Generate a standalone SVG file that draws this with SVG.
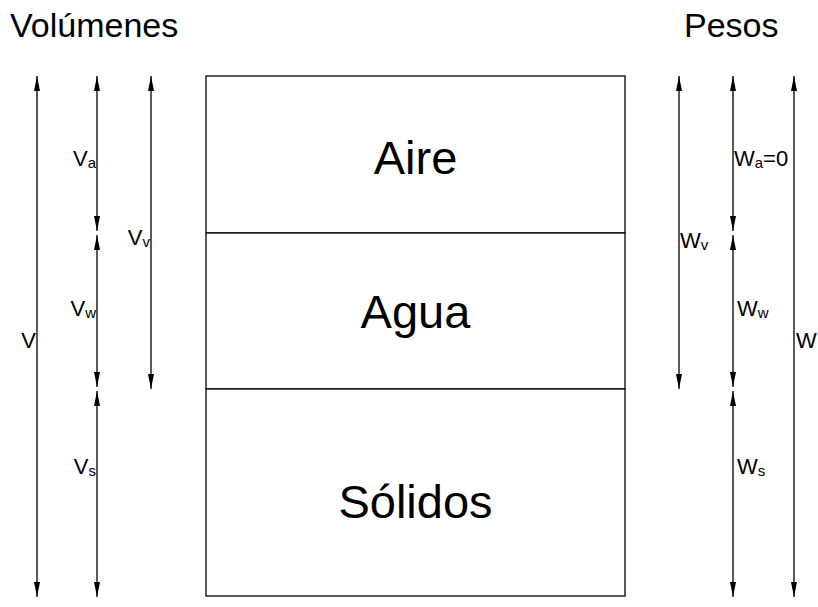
<svg xmlns="http://www.w3.org/2000/svg" width="818" height="607" viewBox="0 0 818 607">
<defs>
<marker id="ah" viewBox="0 0 15 6" refX="15" refY="3" markerWidth="15" markerHeight="6" markerUnits="userSpaceOnUse" orient="auto-start-reverse">
<path d="M0,0 L15,3 L0,6 z" fill="#000"/>
</marker>
<style>
text{font-family:"Liberation Sans",Arial,sans-serif;fill:#000}
.title{font-size:34px}
.big{font-size:47px;text-anchor:middle}
.lbl{font-size:22px}
.sub{font-size:15px}
.end{text-anchor:end}
.dim{stroke:#000;stroke-width:1.3;fill:none;marker-start:url(#ah);marker-end:url(#ah)}
.box{stroke:#000;stroke-width:1.3;fill:#fff}
</style>
</defs>
<rect width="818" height="607" fill="#fff"/>
<text class="title" x="10" y="37">Volúmenes</text>
<text class="title" x="684" y="37">Pesos</text>

<g id="aire">
<rect class="box" x="206" y="76" width="419" height="157"/>
<text class="big" x="415.5" y="174">Aire</text>
</g>
<g id="agua">
<rect class="box" x="206" y="233" width="419" height="156"/>
<text class="big" x="415.5" y="328">Agua</text>
</g>
<g id="solidos">
<rect class="box" x="206" y="389" width="419" height="207"/>
<text class="big" x="415.5" y="518">Sólidos</text>
</g>

<g id="connectors">
<line class="dim" x1="37" y1="76" x2="37" y2="597"/>
<line class="dim" x1="97" y1="76" x2="97" y2="231"/>
<line class="dim" x1="97" y1="235" x2="97" y2="387"/>
<line class="dim" x1="97" y1="391" x2="97" y2="597"/>
<line class="dim" x1="151" y1="76" x2="151" y2="389"/>
<line class="dim" x1="679" y1="76" x2="679" y2="389"/>
<line class="dim" x1="733" y1="76" x2="733" y2="231"/>
<line class="dim" x1="733" y1="235" x2="733" y2="387"/>
<line class="dim" x1="733" y1="391" x2="733" y2="597"/>
<line class="dim" x1="794" y1="76" x2="794" y2="597"/>
</g>

<g id="labels">
<text class="lbl end" x="36" y="348">V</text>
<text class="lbl end" x="96" y="166">V<tspan class="sub" dy="2">a</tspan></text>
<text class="lbl end" x="96" y="316">V<tspan class="sub" dy="2">w</tspan></text>
<text class="lbl end" x="96" y="474">V<tspan class="sub" dy="2">s</tspan></text>
<text class="lbl end" x="150" y="245">V<tspan class="sub" dy="2">v</tspan></text>
<text class="lbl" x="680" y="248">W<tspan class="sub" dy="2">v</tspan></text>
<text class="lbl" x="734" y="166">W<tspan class="sub" dy="2">a</tspan><tspan dy="-2">=0</tspan></text>
<text class="lbl" x="737" y="316">W<tspan class="sub" dy="2">w</tspan></text>
<text class="lbl" x="737" y="474">W<tspan class="sub" dy="2">s</tspan></text>
<text class="lbl" x="796" y="348">W</text>
</g>
</svg>
